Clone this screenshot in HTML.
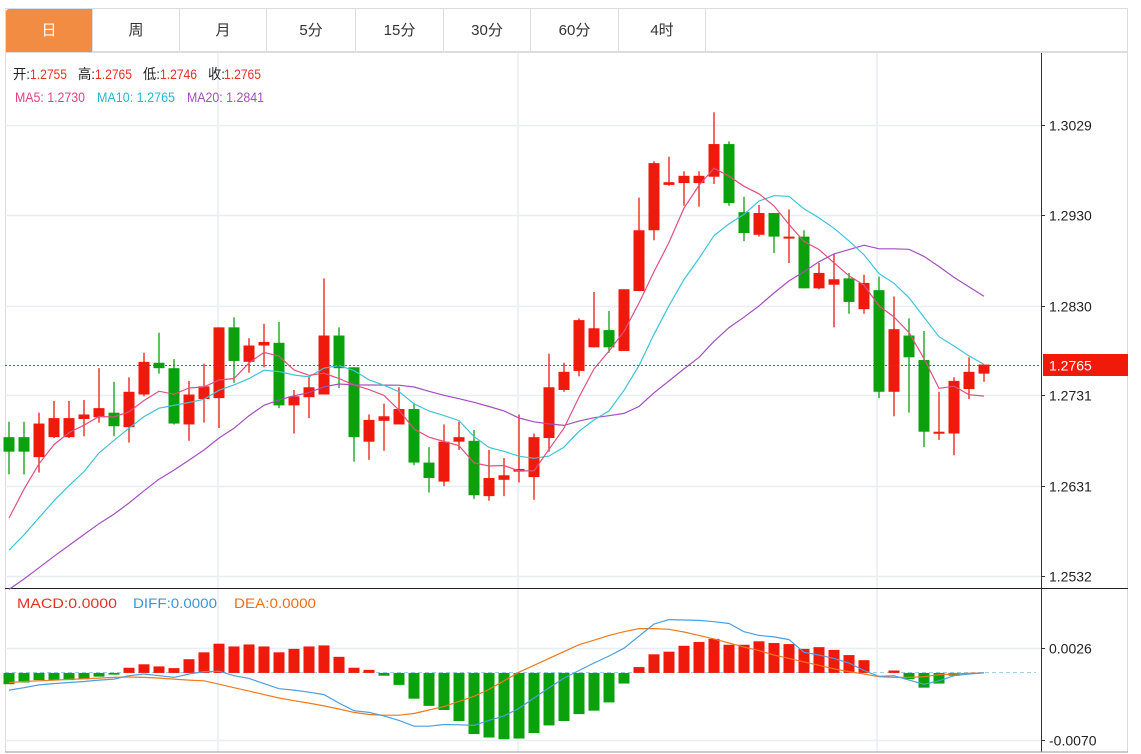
<!DOCTYPE html>
<html><head><meta charset="utf-8"><style>
html,body{margin:0;padding:0;background:#fff;width:1141px;height:754px;overflow:hidden;font-family:"Liberation Sans","Noto Sans CJK SC",sans-serif;}
.tabs{position:absolute;left:5px;top:8px;width:1123px;height:44px;border:1px solid #dcdcdc;box-sizing:border-box;}
.tab{position:absolute;top:0;height:43px;line-height:43px;text-align:center;font-size:15px;color:#333;border-right:1px solid #dcdcdc;box-sizing:border-box;}
.tab.on{background:#f28c42;color:#fff;border-radius:3px 0 0 0;}
svg{position:absolute;left:0;top:0;}
</style></head><body>
<div class="tabs">
<div class="tab on" style="left:0;width:87px">日</div>
<div class="tab" style="left:87px;width:87px">周</div>
<div class="tab" style="left:174px;width:87px">月</div>
<div class="tab" style="left:261px;width:89px">5分</div>
<div class="tab" style="left:350px;width:88px">15分</div>
<div class="tab" style="left:438px;width:87px">30分</div>
<div class="tab" style="left:525px;width:88px">60分</div>
<div class="tab" style="left:613px;width:87px">4时</div>
</div>
<svg id="chart" width="1141" height="754"></svg>
<script>
const opens=[1.2685,1.2685,1.2663,1.2685,1.2685,1.2705,1.2707,1.2712,1.2696,1.2732,1.2767,1.2761,1.2699,1.2727,1.2728,1.2806,1.2768,1.2786,1.2789,1.2720,1.2729,1.2732,1.2797,1.2762,1.2680,1.2703,1.2699,1.2716,1.2657,1.2636,1.2680,1.2681,1.2620,1.2638,1.2647,1.2641,1.2684,1.2737,1.2758,1.2784,1.2803,1.2780,1.2846,1.2913,1.2963,1.2965,1.2965,1.2972,1.3008,1.2933,1.2908,1.2932,1.2904,1.2906,1.2849,1.2853,1.2860,1.2826,1.2847,1.2735,1.2797,1.2770,1.2690,1.2689,1.2738,1.2755];
const highs=[1.2702,1.2702,1.2712,1.2725,1.2725,1.2726,1.2761,1.2746,1.2751,1.2778,1.2800,1.2771,1.2747,1.2766,1.2806,1.2817,1.2794,1.2810,1.2812,1.2737,1.2752,1.2860,1.2806,1.2762,1.2710,1.2722,1.2740,1.2723,1.2674,1.2699,1.2702,1.2693,1.2671,1.2662,1.2710,1.2689,1.2777,1.2767,1.2816,1.2845,1.2824,1.2848,1.2949,1.2989,1.2994,1.2978,1.2978,1.3043,1.3011,1.2950,1.2941,1.2932,1.2936,1.2913,1.2877,1.2887,1.2866,1.2864,1.2862,1.2840,1.2816,1.2802,1.2735,1.2751,1.2773,1.2765];
const lows=[1.2644,1.2644,1.2646,1.2684,1.2684,1.2686,1.2701,1.2686,1.2679,1.2730,1.2755,1.2699,1.2681,1.2701,1.2695,1.2745,1.2756,1.2762,1.2717,1.2689,1.2706,1.2732,1.2739,1.2658,1.2660,1.2670,1.2699,1.2654,1.2624,1.2631,1.2671,1.2617,1.2615,1.2620,1.2635,1.2616,1.2669,1.2735,1.2752,1.2784,1.2778,1.2780,1.2846,1.2902,1.2962,1.2940,1.2939,1.2964,1.2940,1.2901,1.2906,1.2888,1.2877,1.2849,1.2848,1.2806,1.2821,1.2821,1.2728,1.2708,1.2712,1.2674,1.2682,1.2665,1.2727,1.2746];
const closes=[1.2669,1.2669,1.2700,1.2706,1.2706,1.2710,1.2717,1.2697,1.2735,1.2768,1.2761,1.2700,1.2732,1.2741,1.2806,1.2769,1.2786,1.2790,1.2720,1.2730,1.2740,1.2797,1.2761,1.2685,1.2704,1.2708,1.2716,1.2657,1.2640,1.2680,1.2685,1.2621,1.2640,1.2643,1.2650,1.2685,1.2740,1.2757,1.2814,1.2805,1.2784,1.2848,1.2913,1.2987,1.2966,1.2973,1.2973,1.3008,1.2943,1.2910,1.2932,1.2906,1.2906,1.2849,1.2866,1.2859,1.2834,1.2855,1.2735,1.2804,1.2773,1.2691,1.2691,1.2747,1.2757,1.2765];
const priorCloses=[1.2440,1.2450,1.2455,1.2465,1.2470,1.2480,1.2485,1.2490,1.2500,1.2505,1.2500,1.2510,1.2520,1.2540,1.2555,1.2510,1.2560,1.2600,1.2640];
const priceTicks=[1.3029,1.2930,1.2830,1.2731,1.2631,1.2532];
const macdHist=[-0.00118,-0.00100,-0.00075,-0.00075,-0.00075,-0.00065,-0.00039,-0.00018,0.00054,0.00090,0.00068,0.00050,0.00143,0.00215,0.00305,0.00276,0.00297,0.00276,0.00215,0.00251,0.00276,0.00287,0.00168,0.00054,0.00032,-0.00029,-0.00125,-0.00269,-0.00344,-0.00387,-0.00502,-0.00638,-0.00674,-0.00692,-0.00685,-0.00627,-0.00548,-0.00502,-0.00430,-0.00394,-0.00308,-0.00111,0.00061,0.00194,0.00222,0.00283,0.00323,0.00355,0.00294,0.00294,0.00330,0.00312,0.00301,0.00251,0.00269,0.00240,0.00186,0.00133,0.00000,0.00025,-0.00065,-0.00154,-0.00111,-0.00029,-0.00007,0.00000];
const diffVals=[-0.00179,-0.00154,-0.00125,-0.00111,-0.00100,-0.00090,-0.00075,-0.00065,-0.00029,-0.00011,-0.00029,-0.00047,-0.00011,0.00014,0.00018,-0.00029,-0.00057,-0.00111,-0.00165,-0.00179,-0.00201,-0.00226,-0.00315,-0.00394,-0.00412,-0.00448,-0.00495,-0.00556,-0.00556,-0.00538,-0.00541,-0.00548,-0.00495,-0.00448,-0.00369,-0.00262,-0.00154,-0.00054,0.00025,0.00104,0.00176,0.00258,0.00384,0.00509,0.00556,0.00552,0.00548,0.00534,0.00516,0.00430,0.00391,0.00376,0.00348,0.00215,0.00186,0.00151,0.00104,0.00025,-0.00036,-0.00029,-0.00075,-0.00118,-0.00082,-0.00029,-0.00011,0.00000];
const deaVals=[-0.00100,-0.00090,-0.00082,-0.00075,-0.00068,-0.00061,-0.00054,-0.00047,-0.00043,-0.00047,-0.00054,-0.00065,-0.00075,-0.00082,-0.00118,-0.00154,-0.00190,-0.00226,-0.00262,-0.00290,-0.00315,-0.00344,-0.00376,-0.00412,-0.00434,-0.00441,-0.00441,-0.00423,-0.00387,-0.00351,-0.00297,-0.00244,-0.00172,-0.00082,0.00007,0.00079,0.00151,0.00222,0.00294,0.00341,0.00391,0.00430,0.00462,0.00462,0.00455,0.00427,0.00391,0.00355,0.00312,0.00269,0.00233,0.00186,0.00151,0.00115,0.00079,0.00043,0.00014,-0.00011,-0.00039,-0.00047,-0.00047,-0.00039,-0.00018,-0.00011,-0.00004,0.00000];
const macdTicks=[0.0026,-0.0070];

const NS='http://www.w3.org/2000/svg';
const svg=document.getElementById('chart');
function el(tag,attrs,parent){const e=document.createElementNS(NS,tag);for(const k in attrs)e.setAttribute(k,attrs[k]);(parent||svg).appendChild(e);return e;}
const xOf=i=>9+15*i;
const yP=p=>125+(1.3029-p)*(451/(1.3029-1.2532));
const yM=v=>648+(0.0026-v)*(92/(0.0026+0.0070));
const AX=1041;

let f=el('rect',{x:5.5,y:52.5,width:1122,height:699.5,fill:'none',stroke:'#dcdcdc'});


[218,518,877].forEach(x=>{const g=el('line',{x1:x,y1:53,x2:x,y2:752,stroke:'#e8eef3','stroke-width':1.5});

});
priceTicks.forEach(t=>{const y=Math.round(yP(t))+0.5;
const g=el('line',{x1:5,y1:y,x2:AX,y2:y,stroke:'#e8eef3','stroke-width':1.5});


el('line',{x1:AX,y1:y,x2:AX+4,y2:y,stroke:'#333'});
const tx=el('text',{x:1049,y:y+5,'font-size':14,fill:'#222'});tx.textContent=t.toFixed(4);

});
macdTicks.forEach(t=>{const y=Math.round(yM(t))+0.5;
const g=el('line',{x1:5,y1:y,x2:AX,y2:y,stroke:'#e8eef3','stroke-width':1.5});


el('line',{x1:AX,y1:y,x2:AX+4,y2:y,stroke:'#333'});
const tx=el('text',{x:1049,y:y+5,'font-size':14,fill:'#222'});tx.textContent=t.toFixed(4);

});
el('line',{x1:AX+0.5,y1:53,x2:AX+0.5,y2:752,stroke:'#333'});
el('line',{x1:5,y1:588.5,x2:1128,y2:588.5,stroke:'#222'});
el('line',{x1:5,y1:752,x2:1128,y2:752,stroke:'#999'});
const zl=el('line',{x1:5,y1:Math.round(yM(0))-0.5,x2:1036,y2:Math.round(yM(0))-0.5,stroke:'#9fd0ea','stroke-dasharray':'4,3'});



const all=priorCloses.concat(closes);
function ma(n){return closes.map((c,i)=>{let s=0;const k=i+priorCloses.length;for(let j=k-n+1;j<=k;j++)s+=all[j];return s/n;});}
function line(vals,yf,color,name){const pts=vals.map((v,i)=>xOf(i)+','+yf(v).toFixed(1)).join(' ');
const p=el('polyline',{points:pts,fill:'none',stroke:color,'stroke-width':1.2});

}

closes.forEach((c,i)=>{const o=opens[i];const up=c>=o;const col=up?'#ef1a0b':'#0aa10c';const x=xOf(i);
const g=el('g',{});


el('line',{x1:x,y1:yP(highs[i]),x2:x,y2:yP(lows[i]),stroke:col,'stroke-width':1.3},g);
const top=yP(Math.max(o,c)),bot=yP(Math.min(o,c));
el('rect',{x:x-5.5,y:top,width:11,height:Math.max(bot-top,2),fill:col},g);});
line(ma(20),yP,'#a24fc0','ma20-line');
line(ma(10),yP,'#3fc3d6','ma10-line');
line(ma(5),yP,'#e1507f','ma5-line');

const lp=closes[closes.length-1];const ly=Math.round(yP(lp))+0.5;
const pl=el('line',{x1:5,y1:ly,x2:AX,y2:ly,stroke:'#e8261a','stroke-dasharray':'2,2'});


const lb=el('rect',{x:1043,y:ly-11.5,width:85,height:22,fill:'#f01a0a'});


const lt=el('text',{x:1049,y:ly+5,'font-size':14,fill:'#fff'});lt.textContent=lp.toFixed(4);

macdHist.forEach((v,i)=>{const y0=yM(0),y1=yM(v);
const r=el('rect',{x:xOf(i)-5.5,y:Math.min(y0,y1),width:11,height:Math.abs(y1-y0),fill:v>=0?'#ef1a0b':'#0aa10c'});

});
line(deaVals,yM,'#f07a1e','dea-line');
line(diffVals,yM,'#4c9fe0','diff-line');

function txt(x,y,s,c,name,w){const a={x:x,y:y,'font-size':14,fill:c};if(w){a.textLength=w;a.lengthAdjust='spacingAndGlyphs';}
const t=el('text',a);t.textContent=s;

return t;}
const hdr=[['开:',13,'#222',17],['1.2755',30,'#e0322a',37],['高:',78,'#222',17],['1.2765',95,'#e0322a',37],['低:',143,'#222',17],['1.2746',160,'#e0322a',37],['收:',208,'#222',17],['1.2765',224,'#e0322a',37]];
hdr.forEach(h=>txt(h[1],79,h[0],h[2],'ohlc-legend',h[3]));
txt(15,102,'MA5: 1.2730','#e1447f','ma5-legend',70);
txt(97,102,'MA10: 1.2765','#2ab6cc','ma10-legend',78);
txt(187,102,'MA20: 1.2841','#a050c0','ma20-legend',77);
txt(17,608,'MACD:0.0000','#e0322a','macd-legend',100);
txt(133,608,'DIFF:0.0000','#3d95d8','diff-legend',84);
txt(234,608,'DEA:0.0000','#ec6e18','dea-legend',82);
</script>
</body></html>
